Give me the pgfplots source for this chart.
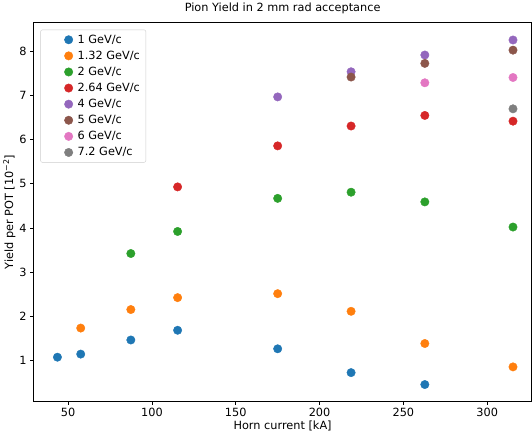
\documentclass[border=0pt]{standalone}
\usepackage{fontspec}
\setmainfont{DejaVu Sans}
\usepackage{pgfplots}
\pgfplotsset{compat=1.18}
\definecolor{c0}{HTML}{1F77B4}
\definecolor{c1}{HTML}{FF7F0E}
\definecolor{c2}{HTML}{2CA02C}
\definecolor{c3}{HTML}{D62728}
\definecolor{c4}{HTML}{9467BD}
\definecolor{c5}{HTML}{8C564B}
\definecolor{c6}{HTML}{E377C2}
\definecolor{c7}{HTML}{7F7F7F}
\begin{document}
\begin{tikzpicture}
\begin{axis}[
  scale only axis, width=496bp, height=377bp,
  xmin=29.4, xmax=326.5, ymin=0.07, ymax=8.65,
  xtick={50,100,...,300}, ytick={1,2,...,8},
  tick align=outside, tick pos=left,
  major tick length=3.5bp,
  every tick/.style={black, line width=0.8pt},
  axis line style={line width=0.8pt},
  /pgf/number format/assume math mode=true,
  tick label style={font=\fontsize{11.3}{13}\selectfont},
  label style={font=\fontsize{11.3}{13}\selectfont},
  title style={font=\fontsize{11.3}{13}\selectfont, yshift=-1bp},
  title={Pion Yield in 2 mm rad acceptance},
  xlabel={Horn current [kA]},
  ylabel={Yield per POT [10\textsuperscript{−2}]},
  xlabel style={yshift=3bp},
  ylabel style={yshift=-3bp},
  legend style={at={(0.0135,0.982)}, anchor=north west, draw=black!20, rounded corners=2bp,
    font=\fontsize{11.3}{13}\selectfont, row sep=2.2bp, inner xsep=4bp, inner ysep=3bp},
  legend cell align=left,
  legend image code/.code={\path[draw=none, fill=none] (0bp,0bp) -- (31bp,0bp); \draw[#1] plot coordinates {(24bp,0bp)};},
  every axis plot/.append style={only marks, mark=*, mark size=4.2bp},
]
\addplot[c0, mark options={fill=c0, draw=c0}] coordinates {
  (43.6,1.07) (57.5,1.14) (87.4,1.46) (115.3,1.68) (175.0,1.26) (218.8,0.72) (262.8,0.45)};
\addlegendentry{1 GeV/c}
\addplot[c1, mark options={fill=c1, draw=c1}] coordinates {
  (57.5,1.73) (87.4,2.15) (115.3,2.42) (175.0,2.51) (218.8,2.11) (262.8,1.38) (315.4,0.85)};
\addlegendentry{1.32 GeV/c}
\addplot[c2, mark options={fill=c2, draw=c2}] coordinates {
  (87.4,3.42) (115.3,3.92) (175.0,4.67) (218.8,4.81) (262.8,4.59) (315.4,4.02)};
\addlegendentry{2 GeV/c}
\addplot[c3, mark options={fill=c3, draw=c3}] coordinates {
  (115.3,4.93) (175.0,5.86) (218.8,6.31) (262.8,6.55) (315.4,6.42)};
\addlegendentry{2.64 GeV/c}
\addplot[c4, mark options={fill=c4, draw=c4}] coordinates {
  (175.0,6.97) (218.8,7.54) (262.8,7.92) (315.4,8.26)};
\addlegendentry{4 GeV/c}
\addplot[c5, mark options={fill=c5, draw=c5}] coordinates {
  (218.8,7.42) (262.8,7.73) (315.4,8.03)};
\addlegendentry{5 GeV/c}
\addplot[c6, mark options={fill=c6, draw=c6}] coordinates {
  (262.8,7.29) (315.4,7.41)};
\addlegendentry{6 GeV/c}
\addplot[c7, mark options={fill=c7, draw=c7}] coordinates {
  (315.4,6.70)};
\addlegendentry{7.2 GeV/c}
\end{axis}
\end{tikzpicture}
\end{document}
